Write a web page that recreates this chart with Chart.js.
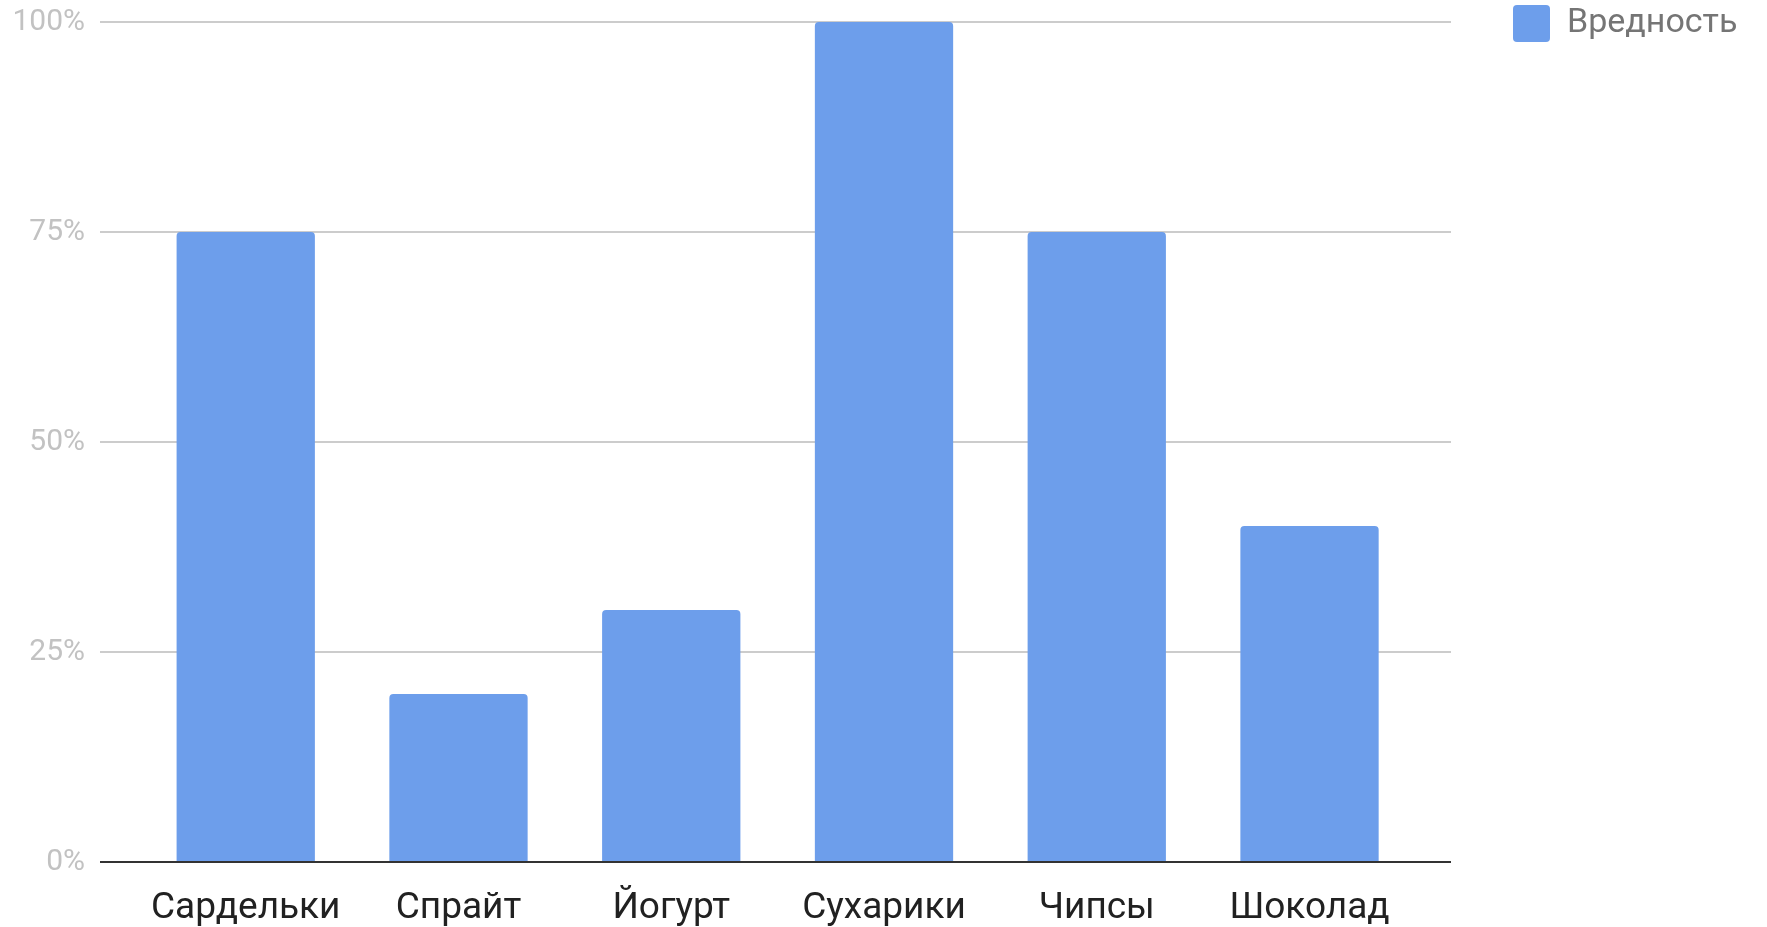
<!DOCTYPE html>
<html><head><meta charset="utf-8">
<script src="https://cdn.jsdelivr.net/npm/chart.js@4/dist/chart.umd.min.js"></script>
<style>html,body{margin:0;padding:0;background:#fff}#wrap{width:1767px;height:927px;position:relative}</style>
</head><body><div id="wrap"><canvas id="c"></canvas></div>
<script>
const categories = ['Сардельки', 'Спрайт', 'Йогурт', 'Сухарики', 'Чипсы', 'Шоколад'];
const harmValues = [75, 20, 30, 100, 75, 40];
const yTickValues = [0, 25, 50, 75, 100];
const seriesName = 'Вредность';

Chart.defaults.font.family = 'Roboto, sans-serif';

const legendPlace = {
  id: 'legendPlace',
  afterInit(chart) {
    const lg = chart.legend;
    const origFit = lg.fit.bind(lg);
    lg.fit = function () { origFit(); this.width = 316; };
  },
  afterLayout(chart) {
    const lg = chart.legend;
    lg.left = 1508;
    lg.top = 0;
  }
};

new Chart(document.getElementById('c'), {
  type: 'bar',
  data: {
    datasets: [{
      label: seriesName,
      data: harmValues.map((v, i) => ({ x: i, y: v })),
      backgroundColor: '#6d9eeb',
      borderRadius: { topLeft: 4, topRight: 4 },
      borderSkipped: 'start',
      categoryPercentage: 0.65,
      barPercentage: 1
    }]
  },
  options: {
    responsive: true,
    maintainAspectRatio: false,
    animation: false,
    layout: { padding: { top: 22, left: 0, right: 0, bottom: 0 } },
    plugins: {
      tooltip: { enabled: false },
      legend: {
        position: 'right',
        align: 'start',
        labels: {
          boxWidth: 37,
          boxHeight: 37,
          padding: 5,
          color: '#757575',
          font: { size: 34 },
          useBorderRadius: true,
          borderRadius: 4
        }
      }
    },
    scales: {
      x: {
        type: 'linear',
        offset: false,
        min: -0.685,
        max: 5.665,
        afterBuildTicks(scale) { scale.ticks = categories.map((_, i) => ({ value: i })); },
        afterFit(scale) { scale.height = 65; scale.paddingLeft = 0; scale.paddingRight = 0; },
        grid: { display: false, offset: false },
        border: { display: false },
        ticks: {
          autoSkip: false,
          maxRotation: 0,
          padding: 17,
          color: '#212121',
          font: { size: 37 },
          callback: (v) => categories[v]
        }
      },
      y: {
        min: 0,
        max: 100,
        afterBuildTicks(scale) { scale.ticks = yTickValues.map(v => ({ value: v })); },
        afterFit(scale) { scale.width = 100; scale.paddingTop = 0; scale.paddingBottom = 0; },
        grid: {
          drawTicks: false,
          lineWidth: 2,
          color: (ctx) => ctx.tick && ctx.tick.value === 0 ? '#333333' : '#cccccc'
        },
        border: { display: false },
        ticks: {
          padding: 15,
          color: '#c2c2c2',
          font: { size: 30 },
          callback: (v) => v + '%'
        }
      }
    }
  },
  plugins: [legendPlace]
});
</script>
</body></html>
